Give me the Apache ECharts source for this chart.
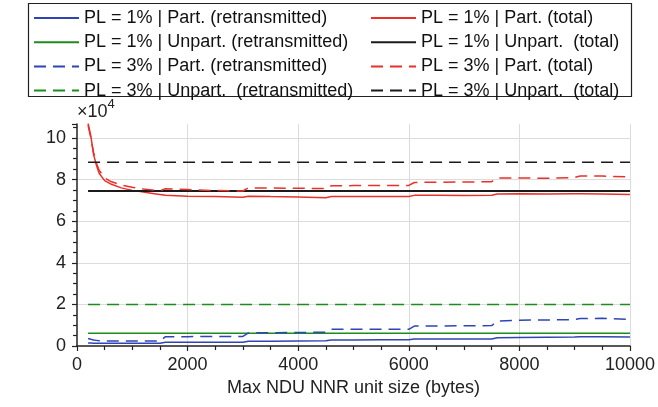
<!DOCTYPE html>
<html>
<head>
<meta charset="utf-8">
<script src="https://cdn.jsdelivr.net/npm/echarts@6/dist/echarts.min.js"></script>
<style>
	html, body { margin: 0; padding: 0; background: #fff; }
	#chart { width: 658px; height: 407px; }
</style>
</head>
<body>
<div id="chart"></div>
<script>
// x: max NDU NNR unit size (bytes), y: data amount in units of 10^4 bytes
var xVals = [200, 250, 300, 350, 400, 500, 600, 800, 1000, 1200, 1400, 1500, 1600, 2000, 2500, 3000, 3100, 3500, 4000, 4500,
	4600, 5000, 5500, 6000, 6100, 6500, 7000, 7500, 7600, 8000, 8500, 9000, 9100, 9500, 10000];
var redSolid1 = [10.7, 10.1, 9.2, 8.7, 8.3, 7.95, 7.8, 7.6, 7.48, 7.40, 7.32, 7.28, 7.24, 7.2, 7.18, 7.15, 7.2, 7.18, 7.16, 7.13,
	7.19, 7.19, 7.18, 7.19, 7.24, 7.24, 7.23, 7.25, 7.31, 7.32, 7.31, 7.32, 7.32, 7.31, 7.28];
var redDash3 = [10.6, 10.0, 9.3, 8.8, 8.45, 8.08, 7.92, 7.74, 7.63, 7.55, 7.49, 7.46, 7.56, 7.52, 7.47, 7.45, 7.6, 7.59, 7.58, 7.57,
	7.7, 7.71, 7.71, 7.72, 7.86, 7.87, 7.88, 7.9, 8.07, 8.08, 8.06, 8.1, 8.17, 8.17, 8.12];
var blueSolid1 = [0.14, 0.14, 0.13, 0.13, 0.13, 0.13, 0.13, 0.13, 0.13, 0.13, 0.13, 0.13, 0.18, 0.18, 0.18, 0.18, 0.23, 0.23, 0.24, 0.25,
	0.29, 0.29, 0.30, 0.30, 0.34, 0.34, 0.34, 0.34, 0.40, 0.41, 0.42, 0.43, 0.45, 0.45, 0.43];
var blueDash3 = [0.36, 0.32, 0.29, 0.27, 0.25, 0.24, 0.24, 0.24, 0.24, 0.24, 0.24, 0.24, 0.45, 0.45, 0.46, 0.46, 0.63, 0.64, 0.65, 0.66,
	0.80, 0.80, 0.80, 0.80, 0.96, 0.96, 0.97, 0.98, 1.20, 1.24, 1.25, 1.27, 1.32, 1.33, 1.28];
// unpartitioned runs are flat
var flatX = [200, 10000];
var greenSolid1 = [0.61, 0.61];
var blackSolid1 = [7.45, 7.45];
var greenDash3 = [2.0, 2.0];
var blackDash3 = [8.83, 8.83];

var names = [
	'PL = 1% | Part. (retransmitted)',
	'PL = 1% | Part. (total)',
	'PL = 1% | Unpart. (retransmitted)',
	'PL = 1% | Unpart.  (total)',
	'PL = 3% | Part. (retransmitted)',
	'PL = 3% | Part. (total)',
	'PL = 3% | Unpart.  (retransmitted)',
	'PL = 3% | Unpart.  (total)'
];

var BLUE = '#2f45b5', RED = '#e8312a', GREEN = '#1c8d1c', BLACK = '#1a1a1a';
var FONT = 'Liberation Sans';

function pairs(xs, ys) {
	var out = [];
	for (var i = 0; i < xs.length; i++) out.push([xs[i], ys[i]]);
	return out;
}

function line(name, xs, ys, color, dashed, width) {
	return {
		name: name,
		type: 'line',
		symbol: 'none',
		animation: false,
		data: pairs(xs, ys),
		lineStyle: {
			color: color,
			width: width || 1.5,
			type: dashed ? [12, 7] : 'solid'
		},
		itemStyle: { color: color }
	};
}

var chart = echarts.init(document.getElementById('chart'));
var legendBase = {
	orient: 'vertical',
	top: 9,
	padding: 0,
	itemWidth: 45,
	itemHeight: 14,
	itemGap: 6.2,
	itemStyle: { opacity: 0 },
	textStyle: { fontFamily: FONT, fontSize: 18, color: '#111' },
	selectedMode: false
};
var option = {
	backgroundColor: '#fff',
	textStyle: { fontFamily: FONT },
	grid: { left: 77, right: 26, top: 124, bottom: 61 },
	graphic: [{
		type: 'rect',
		shape: { x: 28.5, y: 3.5, width: 603, height: 93 },
		style: { fill: 'none', stroke: '#222', lineWidth: 1.2 }
	}],
	legend: [
		Object.assign({}, legendBase, { left: 33, data: [names[0], names[2], names[4], names[6]] }),
		Object.assign({}, legendBase, { left: 370, data: [names[1], names[3], names[5], names[7]] })
	],
	xAxis: {
		type: 'value',
		min: 0,
		max: 10000,
		interval: 2000,
		name: 'Max NDU NNR unit size (bytes)',
		nameLocation: 'middle',
		nameGap: 27,
		nameTextStyle: { fontFamily: FONT, fontSize: 18, color: '#222' },
		axisLine: { show: true, lineStyle: { color: '#222', width: 1.5 } },
		axisTick: { show: true, length: 5, lineStyle: { color: '#222', width: 1.2 } },
		minorTick: { show: true, splitNumber: 4, length: 4, lineStyle: { color: '#222', width: 1.2 } },
		axisLabel: {
			fontFamily: FONT, fontSize: 18, color: '#222', margin: 10,
			formatter: function(v) { return String(v); }
		},
		splitLine: { show: true, showMinLine: false, lineStyle: { color: '#dcdcdc', width: 1 } }
	},
	yAxis: {
		type: 'value',
		min: 0,
		max: 10.67,
		interval: 2,
		name: '{a|×10}{b|4}',
		nameLocation: 'end',
		nameGap: 3,
		nameTextStyle: {
			align: 'left',
			verticalAlign: 'bottom',
			rich: {
				a: { fontFamily: FONT, fontSize: 18, color: '#222', verticalAlign: 'bottom' },
				b: { fontFamily: FONT, fontSize: 13, color: '#222', verticalAlign: 'top', padding: [0, 0, 10, 0] }
			}
		},
		axisLine: { show: true, lineStyle: { color: '#222', width: 1.5 } },
		axisTick: { show: true, length: 5, lineStyle: { color: '#222', width: 1.2 } },
		minorTick: { show: true, splitNumber: 4, length: 4, lineStyle: { color: '#222', width: 1.2 } },
		axisLabel: { fontFamily: FONT, fontSize: 18, color: '#222', margin: 11, showMaxLabel: false },
		splitLine: { show: true, showMinLine: false, showMaxLine: false, lineStyle: { color: '#dcdcdc', width: 1 } }
	},
	series: [
		line(names[0], xVals, blueSolid1, BLUE, false),
		line(names[1], xVals, redSolid1, RED, false),
		line(names[2], flatX, greenSolid1, GREEN, false),
		line(names[3], flatX, blackSolid1, BLACK, false, 2),
		line(names[4], xVals, blueDash3, BLUE, true),
		line(names[5], xVals, redDash3, RED, true),
		line(names[6], flatX, greenDash3, GREEN, true),
		line(names[7], flatX, blackDash3, BLACK, true)
	]
};
chart.setOption(option);
</script>
</body>
</html>
